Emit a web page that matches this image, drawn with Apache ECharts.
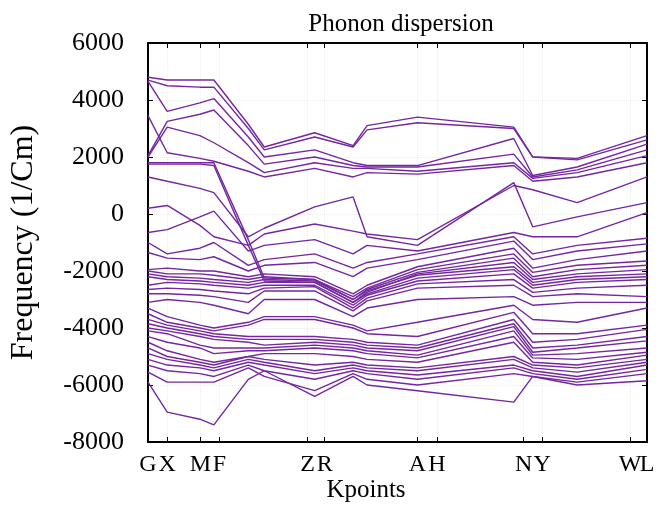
<!DOCTYPE html>
<html>
<head>
<meta charset="utf-8">
<script src="https://cdn.jsdelivr.net/npm/echarts@6/dist/echarts.min.js"></script>
<style>
  html, body { margin: 0; padding: 0; background: #fff; }
  #chart { width: 664px; height: 506px; }
</style>
</head>
<body>
<div id="chart"></div>
<script>
// high-symmetry labels and where they sit along the k-path (0..1)
const kLabels = ['G', 'X', 'M', 'F', 'Z', 'R', 'A', 'H', 'N', 'Y', 'W', 'L']
const kTicks = [0, 0.0385, 0.105, 0.143, 0.320, 0.354, 0.540, 0.579, 0.753, 0.790, 0.966, 1]

// k-path positions where the bands were sampled
const kNodes = [0, 0.0385, 0.104, 0.132, 0.201, 0.233, 0.334, 0.411, 0.439, 0.540, 0.733, 0.771, 0.860, 1]

// band frequencies (1/Cm) at each node
const b01 = [4800, 4700, 4700, 4700, 3150, 2350, 2850, 2400, 3100, 3400, 3050, 2000, 1950, 2750]
const b02 = [4700, 4500, 4450, 4450, 3000, 2250, 2700, 2350, 2950, 3200, 3000, 2000, 1900, 2600]
const b03 = [4650, 3600, 3900, 4050, 2700, 2000, 2250, 1800, 1700, 1700, 2650, 1350, 1650, 2450]
const b04 = [2050, 3250, 3500, 3650, 2400, 1750, 2000, 1700, 1650, 1650, 2100, 1300, 1550, 2250]
const b05 = [2000, 3050, 2750, 2500, 1800, 1450, 1800, 1600, 1600, 1500, 1800, 1250, 1450, 2050]
const b06 = [3450, 2150, 1950, 1850, 1500, 1300, 1600, 1300, 1450, 1400, 1700, 1150, 1300, 1800]
const b07 = [1800, 1800, 1800, 1800, -900, -2250, -2300, -3000, -2700, -2150, -1850, -2400, -2200, -2100]
const b08 = [1750, 1750, 1750, 1700, -1100, -2350, -2400, -3100, -2800, -2250, -1950, -2500, -2300, -2200]

const m01 = [1300, 1150, 900, 750, -800, -500, 250, 600, -800, -1100, 1100, -450, -100, 400]
const m02 = [200, 300, -400, -800, -1100, -700, -350, -600, -700, -900, 1000, 850, 400, 1300]
const m03 = [-650, -550, -100, 100, -1300, -1100, -900, -1400, -1100, -1300, -650, -800, -800, 50]
const m04 = [-1000, -1400, -1200, -1000, -1800, -1600, -1400, -1900, -1700, -1400, -800, -1400, -1100, -850]
const m05 = [-1350, -1550, -1600, -1500, -2000, -1800, -1700, -2200, -1900, -1600, -950, -1600, -1300, -1050]

const d01 = [-1950, -1900, -2000, -2000, -2200, -2100, -2200, -2800, -2500, -1850, -1200, -1900, -1600, -1300]
const d02 = [-2000, -2100, -2100, -2150, -2300, -2200, -2300, -2900, -2600, -1950, -1400, -2050, -1800, -1650]
const d03 = [-2100, -2200, -2250, -2300, -2400, -2300, -2350, -3000, -2650, -2050, -1550, -2200, -1950, -1800]
const d04 = [-2200, -2300, -2350, -2400, -2500, -2400, -2400, -3100, -2750, -2100, -1700, -2300, -2100, -1950]
const d05 = [-2500, -2400, -2450, -2500, -2600, -2500, -2500, -3200, -2850, -2350, -2100, -2600, -2400, -2300]
const d06 = [-2650, -2600, -2650, -2700, -2800, -2600, -2550, -3300, -2950, -2450, -2300, -2750, -2600, -2500]
const d07 = [-2800, -2800, -2850, -2900, -3100, -2700, -2700, -3400, -3050, -2600, -2500, -2900, -2800, -2900]
const d08 = [-3100, -3000, -3100, -3200, -3500, -3000, -3000, -3600, -3300, -3000, -2900, -3200, -3100, -3100]

const e01 = [-3300, -3600, -3900, -4000, -3800, -3600, -3600, -3900, -4100, -3800, -3200, -3700, -3800, -3300]
const e02 = [-3500, -3800, -4000, -4100, -3900, -3700, -3700, -4000, -4200, -4300, -3450, -4200, -4200, -3900]
const e03 = [-3700, -3900, -4100, -4200, -4300, -4300, -4300, -4400, -4500, -4600, -3700, -4500, -4400, -4050]
const e04 = [-3850, -4000, -4200, -4300, -4400, -4400, -4400, -4500, -4600, -4700, -3850, -4700, -4600, -4300]
const e05 = [-4000, -4100, -4300, -4400, -4500, -4600, -4500, -4600, -4700, -4800, -3950, -4850, -4700, -4450]
const e06 = [-4100, -4200, -4600, -4700, -4700, -4700, -4600, -4700, -4800, -4950, -4100, -4950, -4900, -4700]
const e07 = [-4300, -4500, -4700, -4900, -4800, -4800, -4700, -4800, -4900, -5050, -4300, -5050, -5100, -4850]
const e08 = [-4500, -4800, -5100, -5200, -5000, -4900, -4900, -5000, -5100, -5200, -4500, -5200, -5300, -4950]

const f01 = [-4700, -5000, -5200, -5300, -5000, -5100, -5300, -5200, -5300, -5400, -5000, -5300, -5400, -5100]
const f02 = [-4900, -5100, -5300, -5400, -5100, -5200, -5500, -5300, -5400, -5500, -5100, -5400, -5550, -5200]
const f03 = [-5100, -5300, -5400, -5500, -5200, -5300, -5600, -5400, -5500, -5650, -5300, -5500, -5700, -5300]
const f04 = [-5300, -5500, -5600, -5700, -5300, -5500, -5800, -5500, -5600, -5800, -5400, -5600, -5800, -5450]
const f05 = [-5550, -5900, -5900, -5900, -5400, -5700, -6200, -5600, -5800, -6000, -5600, -5700, -5900, -5600]
const f06 = [-5900, -6950, -7200, -7400, -5800, -5500, -6400, -5700, -6000, -6200, -6600, -5700, -6000, -5850]

const bands = [
  b01, b02, b03, b04, b05, b06, b07, b08,
  m01, m02, m03, m04, m05,
  d01, d02, d03, d04, d05, d06, d07, d08,
  e01, e02, e03, e04, e05, e06, e07, e08,
  f01, f02, f03, f04, f05, f06
]

const serif = '"Liberation Serif", "DejaVu Serif", serif'
const lineColor = '#74279f'
const gridLine = { show: true, lineStyle: { color: '#ececec', type: 'dotted', width: 1 } }

const frameAxis = {
  axisLine: { show: true, onZero: false, lineStyle: { color: '#000', width: 2 } },
  axisTick: { inside: true, length: 5, lineStyle: { color: '#000', width: 1 } },
  splitLine: { show: false }
}

const tickName = (v) => {
  let best = 0
  kTicks.forEach((t, i) => { if (Math.abs(t - v) < Math.abs(kTicks[best] - v)) best = i })
  return kLabels[best]
}

const kLabelStyle = {
  formatter: tickName,
  showMinLabel: true,
  showMaxLabel: true,
  hideOverlap: false,
  margin: 11,
  fontFamily: serif,
  fontSize: 24,
  color: '#000'
}

const chart = echarts.init(document.getElementById('chart'))
chart.setOption({
  animation: false,
  title: {
    text: 'Phonon dispersion',
    left: 396,
    top: 7,
    textAlign: 'center',
    textStyle: { fontFamily: serif, fontSize: 25, fontWeight: 'normal', color: '#000' }
  },
  graphic: [
    {
      type: 'text',
      x: 366,
      y: 490,
      style: {
        text: 'Kpoints',
        font: '25px ' + serif,
        fill: '#000',
        textAlign: 'center',
        textVerticalAlign: 'middle'
      }
    }
  ],
  grid: { left: 146, right: 17, top: 43, bottom: 64 },
  xAxis: [
    {
      ...frameAxis,
      type: 'value',
      min: 0,
      max: 1,
      position: 'bottom',
      axisTick: { ...frameAxis.axisTick, customValues: kTicks.slice(1, -1) },
      splitLine: gridLine,
      axisLabel: { ...kLabelStyle, customValues: kTicks.slice(0, -1) }
    },
    {
      ...frameAxis,
      type: 'value',
      min: 0,
      max: 1,
      position: 'top',
      axisTick: { ...frameAxis.axisTick, customValues: kTicks.slice(1, -1) },
      axisLabel: { show: false }
    },
    {
      // carries only the last label, so it is not hidden next to W
      type: 'value',
      min: 0,
      max: 1,
      position: 'bottom',
      offset: 0,
      axisLine: { show: false },
      axisTick: { show: false },
      splitLine: { show: false },
      axisLabel: { ...kLabelStyle, customValues: kTicks.slice(-1) }
    }
  ],
  yAxis: [
    {
      ...frameAxis,
      type: 'value',
      min: -8000,
      max: 6000,
      interval: 2000,
      position: 'left',
      splitLine: gridLine,
      name: 'Frequency (1/Cm)',
      nameLocation: 'middle',
      nameGap: 108,
      nameTextStyle: { fontFamily: serif, fontSize: 32, color: '#000' },
      axisLabel: {
        margin: 24,
        fontFamily: serif,
        fontSize: 26,
        color: '#000',
        formatter: (v) => String(v)
      }
    },
    {
      ...frameAxis,
      type: 'value',
      min: -8000,
      max: 6000,
      interval: 2000,
      position: 'right',
      axisLabel: { show: false }
    }
  ],
  series: bands.map((band) => ({
    type: 'line',
    data: kNodes.map((k, i) => [k, band[i]]),
    showSymbol: false,
    silent: true,
    lineStyle: { color: lineColor, width: 1.4 }
  }))
})
</script>
</body>
</html>
